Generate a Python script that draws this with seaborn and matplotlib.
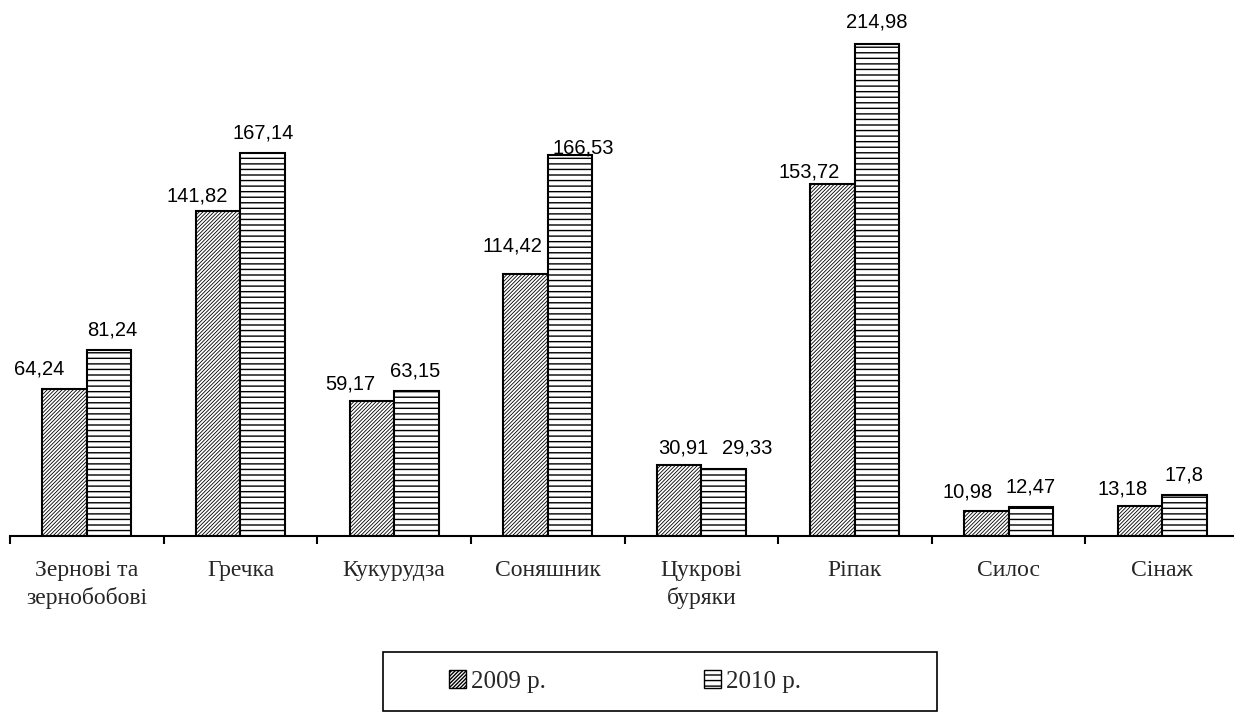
import matplotlib
matplotlib.use("Agg")
import matplotlib.pyplot as plt
from matplotlib.patches import Patch, Rectangle
import seaborn as sns
import pandas as pd

# ---- data ----
categories = ["Зернові та\nзернобобові", "Гречка", "Кукурудза", "Соняшник",
              "Цукрові\nбуряки", "Ріпак", "Силос", "Сінаж"]
years = ["2009 р.", "2010 р."]
values_2009 = [64.24, 141.82, 59.17, 114.42, 30.91, 153.72, 10.98, 13.18]
values_2010 = [81.24, 167.14, 63.15, 166.53, 29.33, 214.98, 12.47, 17.8]

# label placement tweaks (pixels), as in the original chart
label_dx_2009 = [-25, -21, -21, -13, 4, -24, -19, -17]
label_dy_2009 = [14, 10, 11, 23, 12, 7, 13, 11]
label_dx_2010 = [3, 0, -1, 13, 24, 0, 0, 0]
label_dy_2010 = [15, 15, 15, 1, 15, 16, 15, 15]

df = pd.DataFrame({
    "crop": categories * 2,
    "year": [years[0]] * len(categories) + [years[1]] * len(categories),
    "value": values_2009 + values_2010,
})

sns.set_style("white")
plt.rcParams["font.family"] = ["Liberation Serif", "DejaVu Serif"]
plt.rcParams["hatch.linewidth"] = 1.0

W, H = 1234, 712
fig = plt.figure(figsize=(W / 100, H / 100), dpi=100)
fig.patch.set_facecolor("white")

base_y = 536
top_y = 10
scale = 2.2886  # px per unit
ymax = (base_y - top_y) / scale
ax = fig.add_axes([10 / W, (H - base_y) / H, 1229 / W, (base_y - top_y) / H])
ax.set_facecolor("white")

sns.barplot(data=df, x="crop", y="value", hue="year", order=categories,
            hue_order=years, palette=["white", "white"], edgecolor="black",
            linewidth=1.5, width=0.58, gap=0, ax=ax, legend=False,
            errorbar=None, saturation=1)

hatches = ["/////////", "---"]
for cont, h in zip(ax.containers, hatches):
    for p in cont:
        p.set_hatch(h)
        if h.startswith("/") and hasattr(p, "set_hatch_linewidth"):
            p.set_hatch_linewidth(0.6)

ax.set_xlim(-0.5, len(categories) - 0.5)
ax.set_ylim(0, ymax)

for s in ["top", "left", "right"]:
    ax.spines[s].set_visible(False)
ax.spines["bottom"].set_linewidth(1.5)
ax.spines["bottom"].set_color("black")
ax.set_yticks([])
ax.set_xlabel("")
ax.set_ylabel("")

ax.set_xticks(range(len(categories)))
ax.set_xticklabels(categories, fontsize=17, family=["Liberation Serif"],
                   linespacing=1.35)
ax.tick_params(axis="x", which="major", length=0, pad=17)
ax.set_xticks([i - 0.5 for i in range(len(categories) + 1)], minor=True)
ax.tick_params(axis="x", which="minor", bottom=True, length=6, width=1.5,
               direction="out", color="black")

def fmt(v):
    return f"{v:g}".replace(".", ",")

for cont, vals, dxs, dys in [
        (ax.containers[0], values_2009, label_dx_2009, label_dy_2009),
        (ax.containers[1], values_2010, label_dx_2010, label_dy_2010)]:
    for p, v, dx, dy in zip(cont, vals, dxs, dys):
        xc = p.get_x() + p.get_width() / 2
        ax.annotate(fmt(v), xy=(xc, p.get_height()), xytext=(dx, dy),
                    textcoords="offset pixels", ha="center", va="baseline",
                    fontsize=14.5, family=["Liberation Sans"], color="black",
                    annotation_clip=False)

# legend box
bx0, bx1, by0, by1 = 383, 937, 652, 711
fig.patches.append(Rectangle((bx0 / W, (H - by1) / H), (bx1 - bx0) / W,
                             (by1 - by0) / H, transform=fig.transFigure,
                             facecolor="white", edgecolor="black",
                             linewidth=1.2, zorder=0))
handles = [Patch(facecolor="white", edgecolor="black", hatch=h, linewidth=1.0,
                 label=y) for h, y in zip(hatches, years)]
leg = fig.legend(handles=handles, loc="center",
                 bbox_to_anchor=(625 / W, 1 - (by0 + by1) / 2 / H),
                 ncol=2, frameon=False, handlelength=0.68,
                 handleheight=0.68, handletextpad=0.2, columnspacing=6.3,
                 prop={"family": "Liberation Serif", "size": 18})

fig.savefig("out.png", dpi=100, facecolor="white")
